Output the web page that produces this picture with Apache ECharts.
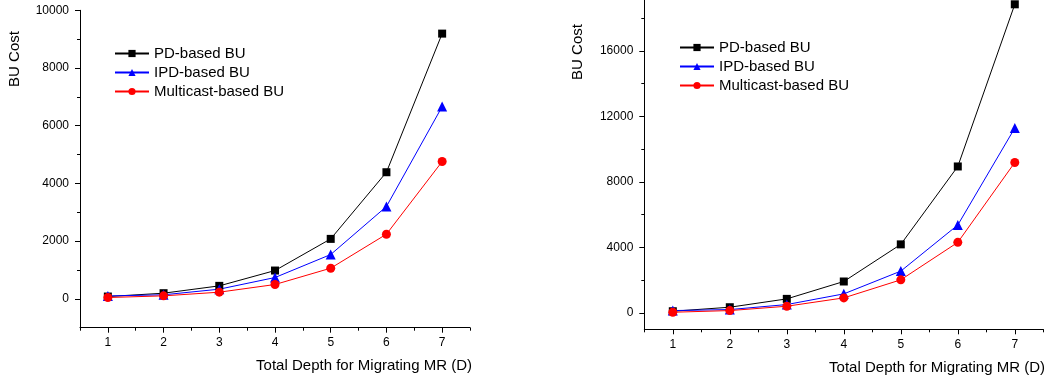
<!DOCTYPE html>
<html>
<head>
<meta charset="utf-8">
<script src="https://cdn.jsdelivr.net/npm/echarts@6/dist/echarts.min.js"></script>
<style>
  html, body { margin: 0; padding: 0; background: #fff; }
  #chart { width: 1061px; height: 382px; }
</style>
</head>
<body>
<div id="chart"></div>
<script>
// ─── Data ──────────────────────────────────────────────────────────
const depths = [1, 2, 3, 4, 5, 6, 7];
const seriesNames = ["PD-based BU", "IPD-based BU", "Multicast-based BU"];

const leftPD = [80, 196, 450, 981, 2078, 4388, 9192];
const leftIPD = [100, 140, 335, 739, 1536, 3199, 6663];
const leftMC = [46, 104, 231, 497, 1062, 2240, 4758];

const rightPD = [102, 347, 857, 1918, 4184, 8939, 18837];
const rightIPD = [143, 204, 510, 1163, 2551, 5367, 11286];
const rightMC = [41, 143, 408, 918, 2020, 4306, 9184];

const xMajor = [1, 2, 3, 4, 5, 6, 7];
const xMinor = [0.5, 1.5, 2.5, 3.5, 4.5, 5.5, 6.5, 7.5];
const leftYMajor = [0, 2000, 4000, 6000, 8000, 10000];
const leftYMinor = [1000, 3000, 5000, 7000, 9000];
const rightYMajor = [0, 4000, 8000, 12000, 16000];
const rightYMinor = [2000, 6000, 10000, 14000, 18000];

// ─── Style ─────────────────────────────────────────────────────────
const FONT = '"Liberation Sans", Arial, sans-serif';
const INK = "#000";
const COLORS = ["#000000", "#0000ff", "#ff0000"];
const SYMBOLS = [
  { symbol: "rect", size: 8 },
  { symbol: "triangle", size: 10 },
  { symbol: "circle", size: 9 },
];

const plain = (v) => String(v);

// Two axes per direction: one draws the line, long ticks and labels,
// the other (no line) draws the short minor ticks.
function xAxisPair(gridIndex) {
  const base = {
    type: "value",
    gridIndex,
    min: 0.5,
    max: 7.5,
    position: "bottom",
    splitLine: { show: false },
  };
  return [
    {
      ...base,
      axisLine: { show: true, onZero: false, lineStyle: { color: INK, width: 1 } },
      axisTick: { show: true, inside: false, length: 5, customValues: xMajor, lineStyle: { color: INK, width: 1 } },
      axisLabel: { show: true, customValues: xMajor, formatter: plain, margin: 9, color: INK, fontSize: 12, fontFamily: FONT },
    },
    {
      ...base,
      axisLine: { show: false, onZero: false },
      axisTick: { show: true, inside: false, length: 3, customValues: xMinor, lineStyle: { color: INK, width: 1 } },
      axisLabel: { show: false },
    },
  ];
}

function yAxisPair(gridIndex, max, major, minor) {
  const base = {
    type: "value",
    gridIndex,
    min: -1000,
    max,
    position: "left",
    splitLine: { show: false },
  };
  return [
    {
      ...base,
      axisLine: { show: true, onZero: false, lineStyle: { color: INK, width: 1 } },
      axisTick: { show: true, inside: false, length: 5, customValues: major, lineStyle: { color: INK, width: 1 } },
      axisLabel: { show: true, customValues: major, formatter: plain, margin: 11, color: INK, fontSize: 12, fontFamily: FONT },
    },
    {
      ...base,
      axisLine: { show: false, onZero: false },
      axisTick: { show: true, inside: false, length: 3, customValues: minor, lineStyle: { color: INK, width: 1 } },
      axisLabel: { show: false },
    },
  ];
}

function makeSeries(values, i, axisIndex) {
  return {
    type: "line",
    name: seriesNames[i],
    xAxisIndex: axisIndex,
    yAxisIndex: axisIndex,
    data: depths.map((d, k) => [d, values[k]]),
    symbol: SYMBOLS[i].symbol,
    symbolSize: SYMBOLS[i].size,
    showAllSymbol: true,
    lineStyle: { color: COLORS[i], width: 1 },
    itemStyle: { color: COLORS[i] },
    animation: false,
  };
}

function makeLegend(left, top) {
  return {
    orient: "vertical",
    left,
    top,
    padding: 0,
    data: seriesNames,
    itemWidth: 34,
    itemHeight: 9,
    itemGap: 4,
    selectedMode: false,
    textStyle: { color: INK, fontSize: 15, fontFamily: FONT },
  };
}

function axisName(text, x, y, vertical) {
  return {
    type: "text",
    x,
    y,
    rotation: vertical ? Math.PI / 2 : 0,
    style: {
      text,
      fill: INK,
      font: `15px ${FONT}`,
      align: vertical ? "center" : "right",
      verticalAlign: "middle",
    },
  };
}

const chart = echarts.init(document.getElementById("chart"), null, { renderer: "canvas" });

chart.setOption({
  animation: false,
  backgroundColor: "#fff",
  grid: [
    { left: 80, top: 10.3, width: 390, height: 317.4 },
    { left: 644.3, top: 0, width: 399, height: 329.3 },
  ],
  xAxis: [...xAxisPair(0), ...xAxisPair(1)],
  yAxis: [
    ...yAxisPair(0, 10000, leftYMajor, leftYMinor),
    ...yAxisPair(1, 19100, rightYMajor, rightYMinor),
  ],
  legend: [makeLegend(114, 46), makeLegend(679, 40)],
  series: [
    makeSeries(leftPD, 0, 0),
    makeSeries(leftIPD, 1, 0),
    makeSeries(leftMC, 2, 0),
    makeSeries(rightPD, 0, 2),
    makeSeries(rightIPD, 1, 2),
    makeSeries(rightMC, 2, 2),
  ],
  graphic: [
    axisName("BU Cost", 15, 59, true),
    axisName("BU Cost", 578, 52, true),
    axisName("Total Depth for Migrating MR (D)", 472, 366, false),
    axisName("Total Depth for Migrating MR (D)", 1045, 367.5, false),
  ],
});
</script>
</body>
</html>
